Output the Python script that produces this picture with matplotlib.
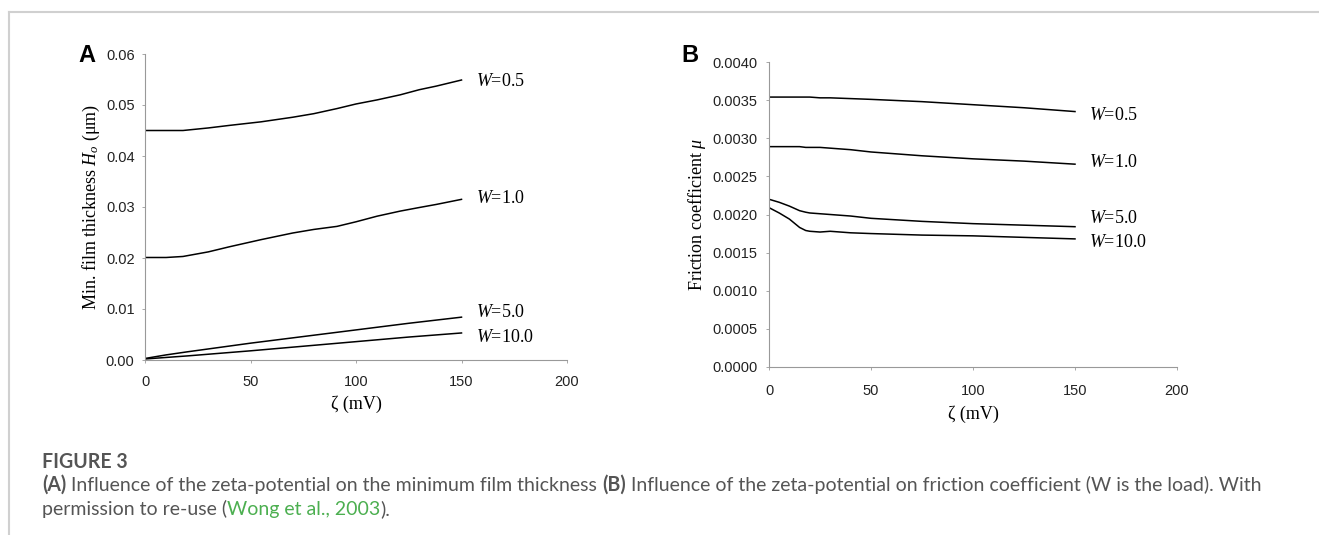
import numpy as np
import matplotlib
matplotlib.use("Agg")
import matplotlib.pyplot as plt
from matplotlib.lines import Line2D

# Panel A: minimum film thickness vs zeta potential
zeta_a = [0, 10, 18, 30, 40, 55, 70, 80, 91, 100, 110, 121, 130, 138, 150]
h_w05 = [0.0450, 0.0450, 0.0450, 0.0455, 0.0460, 0.0467, 0.0476, 0.0483, 0.0493, 0.0502, 0.0510, 0.0520, 0.0530, 0.0537, 0.0549]
h_w10 = [0.0201, 0.0201, 0.0203, 0.0212, 0.0222, 0.0236, 0.0249, 0.0256, 0.0262, 0.0271, 0.0282, 0.0292, 0.0299, 0.0305, 0.0315]
zeta_a2 = [0, 10, 20, 50, 75, 100, 125, 150]
h_w5 = [0.0003, 0.0010, 0.0016, 0.0033, 0.0046, 0.0059, 0.0072, 0.0084]
h_w100 = [0.0002, 0.0005, 0.0008, 0.0018, 0.0027, 0.0036, 0.0045, 0.0053]

# Panel B: friction coefficient vs zeta potential
zeta_b = [0, 5, 10, 15, 18, 20, 25, 30, 40, 50, 75, 100, 125, 150]
mu_w05 = [0.00354, 0.00354, 0.00354, 0.00354, 0.00354, 0.00354, 0.00353, 0.00353, 0.00352, 0.00351, 0.00348, 0.00344, 0.00340, 0.00335]
mu_w10 = [0.00289, 0.00289, 0.00289, 0.00289, 0.00288, 0.00288, 0.00288, 0.00287, 0.00285, 0.00282, 0.00277, 0.00273, 0.00270, 0.00266]
mu_w5 = [0.00220, 0.00216, 0.00211, 0.00205, 0.00203, 0.00202, 0.00201, 0.00200, 0.00198, 0.00195, 0.00191, 0.00188, 0.00186, 0.00184]
mu_w100 = [0.00209, 0.00202, 0.00194, 0.00183, 0.00179, 0.00178, 0.00177, 0.00178, 0.00176, 0.00175, 0.00173, 0.00172, 0.00170, 0.00168]

labels = ["$\\mathit{W}$=0.5", "$\\mathit{W}$=1.0", "$\\mathit{W}$=5.0", "$\\mathit{W}$=10.0"]
label_y_a = [0.0547, 0.0316, 0.0094, 0.0045]
label_y_b = [0.00330, 0.00268, 0.00195, 0.00163]

plt.rcParams["mathtext.fontset"] = "custom"
plt.rcParams["mathtext.it"] = "Liberation Serif:italic"
plt.rcParams["mathtext.rm"] = "Liberation Serif"

fig = plt.figure(figsize=(13.19, 5.35), dpi=100)

serif = "Liberation Serif"
sans = "Liberation Sans"
spine_col = "#999999"


def style_axes(ax, xpad, ypad):
    for s in ["top", "right"]:
        ax.spines[s].set_visible(False)
    for s in ["left", "bottom"]:
        ax.spines[s].set_color(spine_col)
        ax.spines[s].set_linewidth(0.8)
    ax.tick_params(axis="x", length=2.5, width=0.6, color=spine_col, pad=xpad,
                   labelsize=10.5, labelcolor="#222222")
    ax.tick_params(axis="y", length=2.5, width=0.6, color=spine_col, pad=ypad,
                   labelsize=10.5, labelcolor="#222222")
    for lab in ax.get_xticklabels() + ax.get_yticklabels():
        lab.set_fontfamily(sans)
    ax.set_xlim(0, 200)
    ax.set_xticks([0, 50, 100, 150, 200])
    ax.set_xlabel("ζ (mV)", fontfamily=serif, fontsize=13, labelpad=5)


# panel A
axA = fig.add_axes([145 / 1319, 1 - 360 / 535, 422 / 1319, 306 / 535])
for y in [h_w05, h_w10]:
    axA.plot(zeta_a, y, color="black", lw=1.1)
for y in [h_w5, h_w100]:
    axA.plot(zeta_a2, y, color="black", lw=1.1)
axA.set_ylim(0, 0.06)
axA.set_yticks(np.arange(0, 0.061, 0.01))
axA.yaxis.set_major_formatter(matplotlib.ticker.FormatStrFormatter("%.2f"))
style_axes(axA, 8, 5)
axA.set_ylabel("Min. film thickness $\\mathit{H_o}$ (μm)", fontfamily=serif, fontsize=13, labelpad=3)
for lab, yy in zip(labels, label_y_a):
    axA.text(157, yy, lab, fontfamily=serif, fontsize=13, va="center", ha="left")
fig.text(87 / 1319, 1 - 56 / 535, "A", fontfamily=sans, fontweight="bold", fontsize=17,
         ha="center", va="center")

# panel B
axB = fig.add_axes([769 / 1319, 1 - 367 / 535, 408 / 1319, 305 / 535])
for y in [mu_w05, mu_w10, mu_w5, mu_w100]:
    axB.plot(zeta_b, y, color="black", lw=1.1)
axB.set_ylim(0, 0.004)
axB.set_yticks(np.arange(0, 0.00401, 0.0005))
axB.yaxis.set_major_formatter(matplotlib.ticker.FormatStrFormatter("%.4f"))
style_axes(axB, 10, 6)
axB.set_ylabel("Friction coefficient $\\mathit{μ}$", fontfamily=serif, fontsize=13, labelpad=3)
for lab, yy in zip(labels, label_y_b):
    axB.text(157, yy, lab, fontfamily=serif, fontsize=13, va="center", ha="left")
fig.text(690 / 1319, 1 - 56 / 535, "B", fontfamily=sans, fontweight="bold", fontsize=17,
         ha="center", va="center")

# card border
fig.add_artist(Line2D([9 / 1319, 1], [1 - 12 / 535, 1 - 12 / 535], color="#d0d0d0", lw=1.5))
fig.add_artist(Line2D([9 / 1319, 9 / 1319], [0, 1 - 12 / 535], color="#d0d0d0", lw=1.5))

# caption
cap_font = "Lato"
cap_size = 14.05
grey = "#555555"
green = "#4caf50"
fig.text(42 / 1319, 1 - 462 / 535, "FIGURE 3", fontfamily=cap_font, fontweight="bold",
         fontsize=cap_size, color=grey, va="center")

renderer = fig.canvas.get_renderer()


def write_line(parts, x_px, y_px):
    x = x_px
    for txt, weight, col in parts:
        t = fig.text(x / 1319, 1 - y_px / 535, txt, fontfamily=cap_font, fontweight=weight,
                     fontsize=cap_size, color=col, va="center")
        bb = t.get_window_extent(renderer=renderer)
        x += bb.width


line1 = [("(A)", "bold", grey),
         (" Influence of the zeta-potential on the minimum film thickness ", "normal", grey),
         ("(B)", "bold", grey),
         (" Influence of the zeta-potential on friction coefficient (W is the load). With", "normal", grey)]
line2 = [("permission to re-use (", "normal", grey),
         ("Wong et al., 2003", "normal", green),
         (").", "normal", grey)]
write_line(line1, 42, 485)
write_line(line2, 42, 509)

fig.savefig("out.png", dpi=100)
